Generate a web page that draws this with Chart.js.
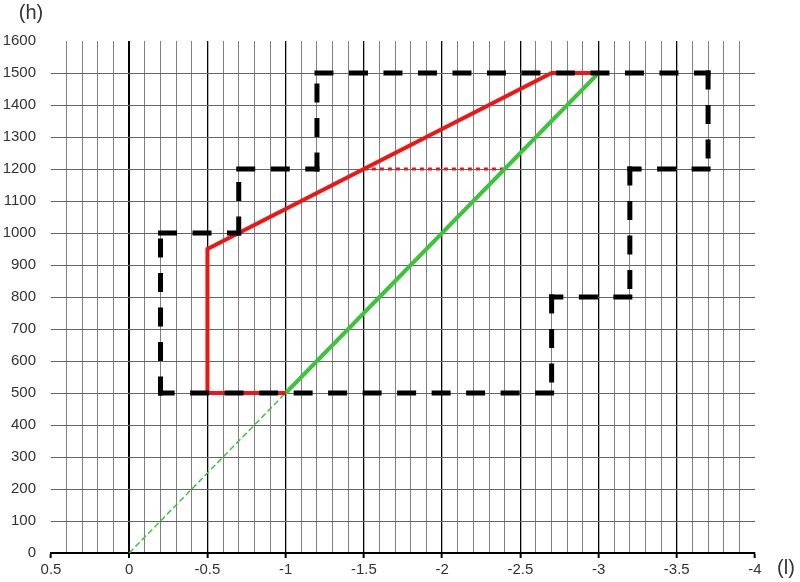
<!DOCTYPE html>
<html>
<head>
<meta charset="utf-8">
<script src="https://cdn.jsdelivr.net/npm/chart.js@4.4.1/dist/chart.umd.min.js"></script>
<style>
  html, body { margin: 0; padding: 0; background: #fff; }
  #wrap { width: 800px; height: 582px; position: relative; }
</style>
</head>
<body>
<div id="wrap"><canvas id="c"></canvas></div>
<script>
// ---- data ----
const boundX = [-0.2, -0.2, -0.7, -0.7, -1.2, -1.2, -3.7, -3.7, -3.2, -3.2, -2.7, -2.7, -0.2];
const boundY = [500, 1000, 1000, 1200, 1200, 1500, 1500, 1200, 1200, 800, 800, 500, 500];

const redX = [-1.0, -0.5, -0.5, -2.7, -3.0];
const redY = [500, 500, 950, 1500, 1500];

const redDotX = [-1.5, -2.4];
const redDotY = [1200, 1200];

const greenX = [-1.0, -3.0];
const greenY = [500, 1500];

const greenDashX = [0, -1.0];
const greenDashY = [0, 500];

const xMin = -4, xMax = 0.5;
const yMin = 0, yMax = 1600, yStep = 100;
const xMajorLabels = ['0.5', '0', '-0.5', '-1', '-1.5', '-2', '-2.5', '-3', '-3.5', '-4'];
const xTitle = '(l)';
const yTitle = '(h)';

// gridline positions every 0.1 from 0.5 down to -4
const xGrid = [];
for (let i = 5; i >= -40; i--) xGrid.push(i / 10);

const pts = (xs, ys) => xs.map((x, i) => ({ x: x, y: ys[i] }));
const isMajor = v => Math.abs(v * 2 - Math.round(v * 2)) < 1e-6;

const titlePlugin = {
  id: 'axisTitles',
  afterDraw(chart) {
    const ctx = chart.ctx;
    ctx.save();
    ctx.fillStyle = '#333';
    ctx.font = '20px "Liberation Sans", Arial, sans-serif';
    ctx.textAlign = 'center';
    ctx.textBaseline = 'middle';
    ctx.fillText(yTitle, 31, 13);
    ctx.fillText(xTitle, 786, 568);
    ctx.restore();
  }
};

new Chart(document.getElementById('c'), {
  type: 'scatter',
  data: {
    datasets: [
      {
        data: pts(boundX, boundY),
        showLine: true,
        borderColor: '#000',
        borderWidth: 5,
        borderDash: [14, 20.5],
        borderCapStyle: 'square',
        borderJoinStyle: 'miter',
        pointRadius: 0,
        segment: {
          borderDashOffset: ctx => (ctx.p0DataIndex % 2 ? 0.0001 : 0)
        }
      },
      {
        data: pts(redX, redY),
        showLine: true,
        borderColor: '#f01414',
        borderWidth: 4,
        borderJoinStyle: 'miter',
        pointRadius: 0
      },
      {
        data: pts(greenX, greenY),
        showLine: true,
        borderColor: '#3cc43c',
        borderWidth: 4,
        pointRadius: 0
      },
      {
        data: pts(redDotX, redDotY),
        showLine: true,
        borderColor: '#f01414',
        borderWidth: 3,
        borderDash: [4, 4],
        pointRadius: 0
      },
      {
        data: pts(greenDashX, greenDashY),
        showLine: true,
        borderColor: '#3cc43c',
        borderWidth: 1.5,
        borderDash: [6, 3],
        pointRadius: 0
      }
    ]
  },
  options: {
    responsive: true,
    maintainAspectRatio: false,
    animation: false,
    events: [],
    layout: { padding: { top: 41, right: 45, left: 0, bottom: 0 } },
    plugins: {
      legend: { display: false },
      tooltip: { enabled: false }
    },
    scales: {
      x: {
        type: 'linear',
        reverse: true,
        min: xMin,
        max: xMax,
        afterBuildTicks: axis => { axis.ticks = xGrid.map(v => ({ value: v })); },
        afterFit: s => { s.height = 29; },
        border: { display: true, color: '#000', width: 2 },
        grid: {
          color: ctx => {
            const v = ctx.tick.value;
            if (v >= 0.45 || v <= -3.95) return 'rgba(0,0,0,0)';
            return isMajor(v) ? '#000' : '#808080';
          },
          lineWidth: ctx => {
            const v = ctx.tick.value;
            if (Math.abs(v) < 1e-6) return 2;
            return isMajor(v) ? 1.3 : 1;
          },
          drawTicks: true,
          tickLength: 5,
          tickColor: ctx => (isMajor(ctx.tick.value) ? '#000' : 'rgba(0,0,0,0)'),
          tickWidth: 2
        },
        ticks: {
          autoSkip: false,
          maxRotation: 0,
          padding: 3,
          color: '#333',
          font: { family: '"Liberation Sans", Arial, sans-serif', size: 15 },
          callback: function (v) {
            if (!isMajor(v)) return '';
            const idx = Math.round((0.5 - v) * 2);
            return xMajorLabels[idx];
          }
        }
      },
      y: {
        type: 'linear',
        min: yMin,
        max: yMax,
        afterFit: s => { s.width = 51; },
        border: { display: false },
        grid: {
          color: ctx => {
            const v = ctx.tick.value;
            return (v <= 0 || v >= 1600) ? 'rgba(0,0,0,0)' : '#666';
          },
          lineWidth: 1,
          drawTicks: false
        },
        ticks: {
          stepSize: yStep,
          padding: 15,
          color: '#333',
          font: { family: '"Liberation Sans", Arial, sans-serif', size: 15 },
          callback: v => String(v)
        }
      }
    }
  },
  plugins: [titlePlugin]
});
</script>
</body>
</html>
